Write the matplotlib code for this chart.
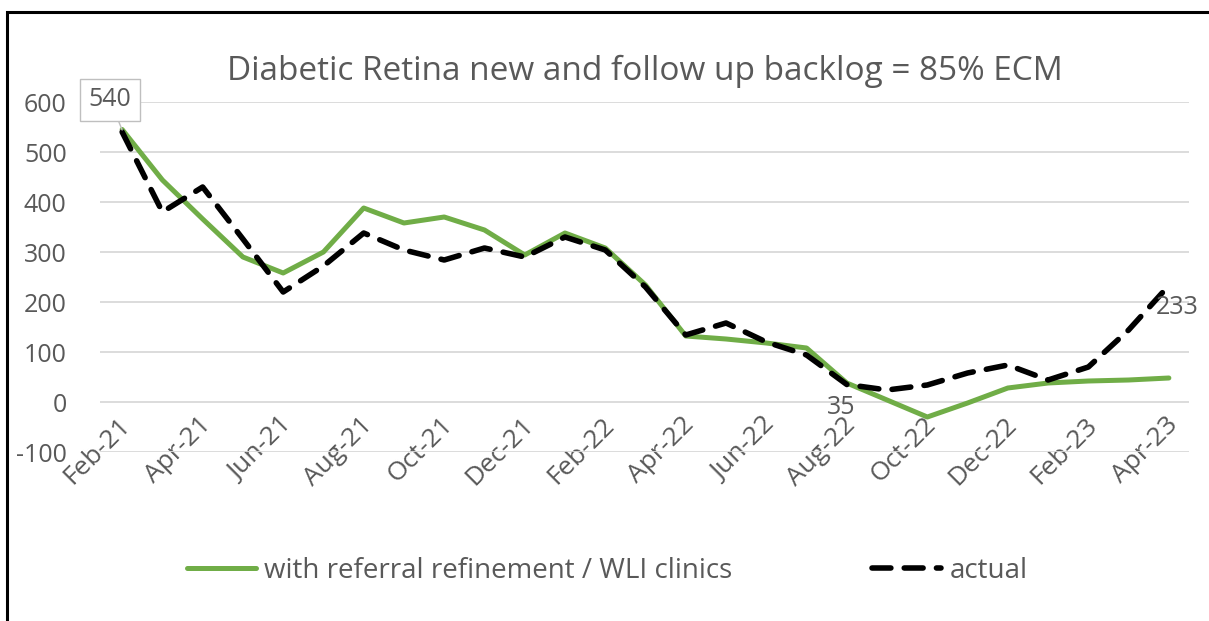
import numpy as np
import matplotlib.pyplot as plt
import matplotlib.transforms as mtransforms
from matplotlib.patches import Rectangle

plt.rcParams['font.family'] = ['Open Sans', 'DejaVu Sans']
plt.rcParams['axes.unicode_minus'] = False

# months Feb-21 .. Apr-23
months = ['Feb-21', 'Mar-21', 'Apr-21', 'May-21', 'Jun-21', 'Jul-21', 'Aug-21',
          'Sep-21', 'Oct-21', 'Nov-21', 'Dec-21', 'Jan-22', 'Feb-22', 'Mar-22',
          'Apr-22', 'May-22', 'Jun-22', 'Jul-22', 'Aug-22', 'Sep-22', 'Oct-22',
          'Nov-22', 'Dec-22', 'Jan-23', 'Feb-23', 'Mar-23', 'Apr-23']

with_refinement = [545, 444, 366, 290, 258, 300, 388, 358, 370, 344, 294, 338,
                   308, 234, 132, 126, 118, 108, 38, 4, -30, -2, 28, 38, 42, 44, 48]
actual = [540, 380, 430, 326, 220, 272, 338, 304, 284, 308, 290, 330,
          304, 230, 134, 158, 120, 94, 35, 24, 34, 58, 74, 44, 70, 144, 233]

grey = '#595959'
W, H = 1209, 621
x = np.arange(len(months))

fig = plt.figure(figsize=(W / 100, H / 100), dpi=100)
ax = fig.add_axes([100 / W, 1 - 452 / H, 1089 / W, 350 / H])

# outer frame of the chart (right and bottom edges fall outside the picture)
fig.patches.append(Rectangle((7 / W, -0.05), 1.05, 1 - 12 / H + 0.05, transform=fig.transFigure,
                             fill=False, edgecolor='black', linewidth=2.2))

ax.plot(x, with_refinement, color='#70AD47', linewidth=3.6,
        label='with referral refinement / WLI clinics', solid_capstyle='round')
ax.plot(x, actual, color='black', linewidth=4.0, dashes=(3.4, 2.4),
        label='actual', dash_capstyle='round')

ax.set_ylim(-100, 600)
ax.set_xlim(-0.55, 26.5)
ax.set_yticks(range(-100, 601, 100))
ax.set_xticks(x[::2])
ax.set_xticklabels(months[::2], rotation=45, ha='right', va='center',
                   rotation_mode='anchor')
ax.tick_params(axis='both', length=0, labelsize=18, colors=grey)
ax.tick_params(axis='x', pad=-22, labelsize=19)
ax.tick_params(axis='y', pad=24)
shift = mtransforms.ScaledTranslation(5 / 100, 0, fig.dpi_scale_trans)
for lab in ax.get_xticklabels():
    lab.set_transform(lab.get_transform() + shift)
ax.grid(axis='y', color='#d9d9d9', linewidth=1.3)
ax.set_axisbelow(True)
for s in ax.spines.values():
    s.set_visible(False)

ax.set_title('Diabetic Retina new and follow up backlog = 85% ECM',
             fontsize=24, color=grey, pad=16)

# data labels
ax.annotate(str(actual[0]), xy=(x[0], actual[0] + 4), xytext=(x[0] - 0.3, 604),
            ha='center', va='center', fontsize=18, color=grey,
            bbox=dict(boxstyle='square,pad=0.35', fc='white', ec='#bfbfbf'),
            arrowprops=dict(arrowstyle='-', color='#bfbfbf', shrinkA=0, shrinkB=0))
ax.text(x[18] - 0.13, actual[18] - 47, str(actual[18]), fontsize=18, color=grey,
        ha='center', va='center')
ax.text(x[26] + 0.2, actual[26] - 43, str(actual[26]), fontsize=18, color=grey,
        ha='center', va='center')

ax.legend(loc='center', bbox_to_anchor=((607 - 100) / 1089, (452 - 571) / 350),
          ncol=2, frameon=False, fontsize=20, labelcolor=grey,
          handlelength=2.5, columnspacing=5.0, handletextpad=0.3)

fig.savefig('out.png', dpi=100)
